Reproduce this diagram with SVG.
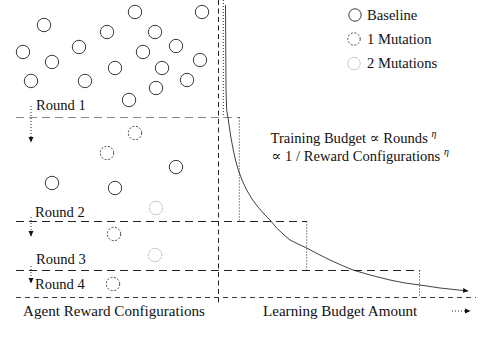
<svg xmlns="http://www.w3.org/2000/svg" width="504" height="354" viewBox="0 0 504 354">
<style>
.t{font-family:'Liberation Serif','Times New Roman','DejaVu Serif',serif;font-size:14.6px;fill:#111}
.lg{font-size:15.1px}
.base{fill:none;stroke:#222;stroke-width:0.9}
.m1{fill:none;stroke:#333;stroke-width:0.9;stroke-dasharray:2 1.6}
.m2{fill:none;stroke:#888;stroke-width:0.9;stroke-dasharray:1 1}
.rl{fill:none;stroke:#222;stroke-width:1;stroke-dasharray:8 5}
.dot{fill:none;stroke:#222;stroke-width:1;stroke-dasharray:1 2}
</style>
<defs>
<marker id="ah" markerWidth="6" markerHeight="6" refX="5" refY="3" orient="auto" markerUnits="userSpaceOnUse">
<path d="M0,0.5 L5.5,3 L0,5.5 Z" fill="#111"/>
</marker>
</defs>
<rect width="504" height="354" fill="#fff"/>
<g id="connectors">
<line x1="218.5" y1="0" x2="218.5" y2="303" fill="none" stroke="#222" stroke-dasharray="5 3.5"/>
<line x1="223.3" y1="0" x2="223.3" y2="117.5" class="dot"/>
<line x1="16" y1="117.5" x2="240" y2="117.5" class="rl" style="stroke:#888"/>
<line x1="239.3" y1="117.5" x2="239.3" y2="221" class="dot"/>
<line x1="16" y1="221.5" x2="307" y2="221.5" class="rl"/>
<line x1="306.7" y1="221.5" x2="306.7" y2="270.5" class="dot"/>
<line x1="16" y1="270.5" x2="420" y2="270.5" class="rl"/>
<line x1="419.5" y1="270.5" x2="419.5" y2="297.5" class="dot"/>
<line x1="16" y1="297.5" x2="476" y2="297.5" fill="none" stroke="#222" stroke-width="0.9" stroke-dasharray="5 4"/>
<polyline fill="none" stroke="#111" stroke-width="0.8" marker-end="url(#ah)" points="225.5,5 226,90 226.7,110 228,118 229.3,126.7 231,138 233.3,150 235.5,160 238.3,170 242,180 246.7,190 252,199 258,207 264,214 270,220 276.7,228 283,234 290,240 298,244 306.7,248 318,254 330,260 341,265 353,270 370,275 390,280 405,283 420,285 440,288 468,291"/>
<line x1="31" y1="106" x2="31" y2="142" class="dot" marker-end="url(#ah)"/>
<line x1="31" y1="217" x2="31" y2="236" class="dot" marker-end="url(#ah)"/>
<line x1="31" y1="266" x2="31" y2="283" class="dot" marker-end="url(#ah)"/>
<line x1="452" y1="311" x2="470" y2="311" class="dot" marker-end="url(#ah)"/>
</g>
<g id="configs">
<circle class="base" cx="135" cy="12" r="6.7"/>
<circle class="base" cx="202" cy="12" r="6.7"/>
<circle class="base" cx="44" cy="25" r="6.7"/>
<circle class="base" cx="107" cy="32" r="6.7"/>
<circle class="base" cx="155" cy="32" r="6.7"/>
<circle class="base" cx="79" cy="47" r="6.7"/>
<circle class="base" cx="176" cy="46" r="6.7"/>
<circle class="base" cx="23" cy="52" r="6.7"/>
<circle class="base" cx="143" cy="52" r="6.7"/>
<circle class="base" cx="52" cy="62" r="6.7"/>
<circle class="base" cx="200" cy="60" r="6.7"/>
<circle class="base" cx="115" cy="68" r="6.7"/>
<circle class="base" cx="162" cy="68" r="6.7"/>
<circle class="base" cx="31" cy="81" r="6.7"/>
<circle class="base" cx="85" cy="81" r="6.7"/>
<circle class="base" cx="187" cy="80" r="6.7"/>
<circle class="base" cx="156" cy="88" r="6.7"/>
<circle class="base" cx="129" cy="100" r="6.7"/>
<circle class="m1" cx="135" cy="133" r="6.7"/>
<circle class="m1" cx="107" cy="153" r="6.7"/>
<circle class="base" cx="176" cy="167" r="6.7"/>
<circle class="base" cx="52" cy="183" r="6.7"/>
<circle class="base" cx="115" cy="188" r="6.7"/>
<circle class="m2" cx="156" cy="208" r="6.7"/>
<circle class="m1" cx="114" cy="234" r="6.7"/>
<circle class="m2" cx="155" cy="255" r="6.7"/>
<circle class="m1" cx="113" cy="284" r="6.7"/>
</g>
<g id="round-labels">
<text class="t" x="36" y="110">Round 1</text>
<text class="t" x="35" y="216.5">Round 2</text>
<text class="t" x="36" y="263.5">Round 3</text>
<text class="t" x="35" y="288.5">Round 4</text>
<text class="t lg" x="23" y="315.5">Agent Reward Configurations</text>
<text class="t lg" x="263" y="316">Learning Budget Amount</text>
</g>
<g id="legend">
<circle class="base" cx="355" cy="15" r="6.2"/>
<text class="t" x="367" y="19.5">Baseline</text>
<circle class="m1" cx="354" cy="39" r="6.2"/>
<text class="t" x="367" y="43.5">1 Mutation</text>
<circle class="m2" cx="354" cy="63.5" r="6.2"/>
<text class="t" x="367" y="68">2 Mutations</text>
</g>
<g id="formula">
<text class="t" x="270.5" y="143.3">Training Budget ∝ Rounds <tspan font-style="italic" font-size="10" dy="-6">η</tspan></text>
<text class="t" x="271.5" y="160.7">∝ 1 / Reward Configurations <tspan font-style="italic" font-size="10" dy="-6">η</tspan></text>
</g>
</svg>
